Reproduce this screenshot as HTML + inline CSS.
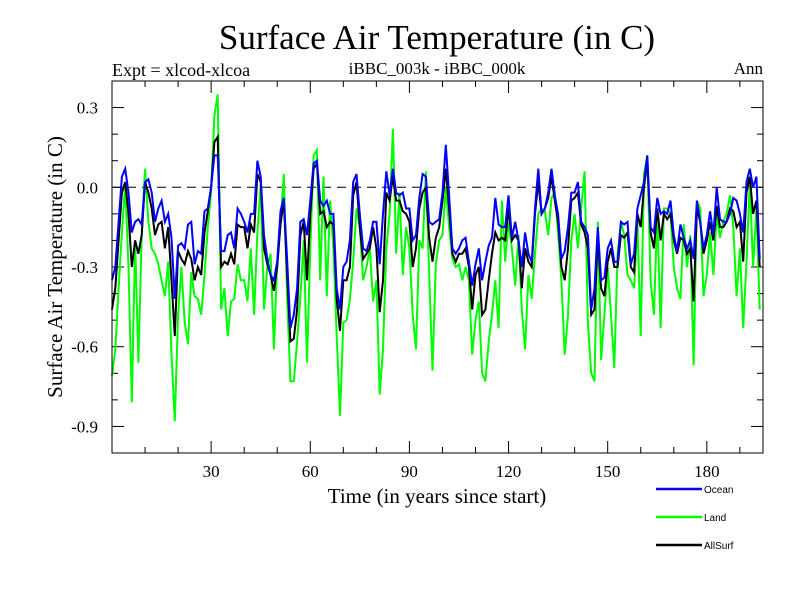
<!DOCTYPE html>
<html><head><meta charset="utf-8"><style>
body{margin:0;background:#fff;}
svg{display:block;}
.serif{font-family:"Liberation Serif",serif;}
.sans{font-family:"Liberation Sans",sans-serif;}
</style></head><body>
<svg id="chart" width="800" height="600" viewBox="0 0 800 600">
<text class="serif" x="437" y="49" font-size="35" text-anchor="middle">Surface Air Temperature (in C)</text>
<text class="serif" x="112" y="76" font-size="18">Expt = xlcod-xlcoa</text>
<text class="serif" x="437" y="74" font-size="17" text-anchor="middle">iBBC_003k - iBBC_000k</text>
<text class="serif" x="763" y="74" font-size="17" text-anchor="end">Ann</text>
<text class="serif" transform="translate(62,267) rotate(-90)" font-size="21" text-anchor="middle">Surface Air Temperature (in C)</text>
<text class="serif" x="437" y="503" font-size="21" text-anchor="middle">Time (in years since start)</text>
<g id="axes"></g>
<g id="series"></g>
<rect x="112" y="81" width="651" height="372" fill="none" stroke="#000" stroke-width="1"/>
<g id="legend"></g>
</svg>
<script>
const years = Array.from({length:197},(_,i)=>i);
const xTicks = [30,60,90,120,150,180];
const yTicks = [0.3,0.0,-0.3,-0.6,-0.9];
const yTickLabels = ["0.3","0.0","-0.3","-0.6","-0.9"];
const ocean = [-0.35,-0.30,-0.13,0.04,0.07,-0.02,-0.17,-0.13,-0.12,-0.14,0.02,0.03,-0.02,-0.13,-0.08,-0.05,-0.13,-0.10,-0.19,-0.42,
-0.22,-0.21,-0.23,-0.14,-0.13,-0.29,-0.24,-0.25,-0.09,-0.08,0.0,0.12,0.12,-0.24,-0.24,-0.18,-0.17,-0.23,-0.08,-0.10,
-0.13,-0.17,-0.10,-0.10,0.10,0.04,-0.18,-0.27,-0.33,-0.35,-0.28,-0.09,-0.04,-0.27,-0.53,-0.48,-0.38,-0.13,-0.12,-0.18,
-0.05,0.09,0.10,-0.05,-0.07,-0.05,-0.10,-0.10,-0.38,-0.46,-0.30,-0.28,-0.20,0.02,0.05,-0.10,-0.23,-0.24,-0.20,-0.13,
-0.13,-0.29,-0.10,0.06,-0.03,0.07,-0.02,-0.03,-0.02,-0.08,-0.08,-0.20,-0.18,-0.04,0.05,0.04,-0.13,-0.14,-0.13,-0.12,
-0.02,0.16,-0.03,-0.23,-0.25,-0.23,-0.20,-0.19,-0.28,-0.37,-0.29,-0.23,-0.35,-0.28,-0.22,-0.19,-0.04,-0.14,-0.15,-0.15,
-0.03,-0.19,-0.13,-0.20,-0.30,-0.17,-0.25,-0.28,-0.08,0.07,-0.10,-0.08,-0.02,0.07,-0.03,-0.10,-0.27,-0.24,-0.15,-0.02,
-0.02,0.02,-0.13,-0.15,-0.18,-0.46,-0.38,-0.15,-0.35,-0.34,-0.23,-0.20,-0.28,-0.28,-0.13,-0.14,-0.13,-0.29,-0.25,-0.08,
-0.03,0.02,0.12,-0.15,-0.17,-0.04,-0.10,-0.09,-0.10,-0.05,-0.18,-0.24,-0.14,-0.19,-0.23,-0.20,-0.27,-0.05,-0.13,-0.23,
-0.18,-0.09,-0.18,0.0,-0.12,-0.13,-0.13,-0.10,-0.04,-0.05,-0.10,-0.17,0.02,0.07,0.0,0.04,-0.27];
const land = [-0.71,-0.61,-0.38,-0.17,0.01,-0.30,-0.81,-0.20,-0.66,-0.18,0.07,-0.13,-0.23,-0.25,-0.29,-0.35,-0.41,-0.28,-0.63,-0.88,
-0.48,-0.30,-0.51,-0.59,-0.32,-0.41,-0.42,-0.48,-0.33,-0.15,-0.02,0.27,0.35,-0.46,-0.38,-0.56,-0.43,-0.42,-0.29,-0.35,
-0.35,-0.43,-0.23,-0.48,-0.17,0.01,-0.46,-0.30,-0.25,-0.61,-0.28,-0.14,0.05,-0.41,-0.73,-0.73,-0.58,-0.41,-0.20,-0.66,
-0.23,0.12,0.14,-0.35,0.04,-0.41,-0.05,-0.23,-0.56,-0.86,-0.51,-0.50,-0.42,-0.28,-0.08,-0.15,-0.35,-0.30,-0.23,-0.43,
-0.35,-0.78,-0.61,-0.23,-0.10,0.22,-0.25,-0.02,-0.33,-0.15,-0.23,-0.48,-0.61,-0.20,-0.23,0.06,-0.33,-0.69,-0.29,-0.20,
-0.18,0.0,-0.15,-0.27,-0.30,-0.29,-0.35,-0.30,-0.35,-0.63,-0.50,-0.43,-0.70,-0.73,-0.58,-0.48,-0.35,-0.53,-0.05,-0.28,
-0.13,-0.23,-0.37,-0.18,-0.46,-0.61,-0.33,-0.42,-0.25,-0.10,-0.08,-0.09,-0.18,-0.04,-0.02,-0.17,-0.35,-0.63,-0.48,-0.20,
-0.10,-0.23,-0.08,0.06,-0.51,-0.70,-0.73,-0.13,-0.65,-0.48,-0.30,-0.48,-0.68,-0.25,-0.13,-0.18,-0.33,-0.35,-0.38,-0.13,
-0.56,0.05,0.12,-0.35,-0.48,-0.10,-0.53,-0.08,-0.08,-0.10,-0.30,-0.38,-0.42,-0.14,-0.30,-0.18,-0.67,-0.05,-0.08,-0.41,
-0.33,-0.17,-0.33,-0.10,-0.19,-0.13,-0.10,-0.03,-0.15,-0.41,-0.23,-0.53,-0.28,0.02,-0.30,-0.08,-0.46];
const allsurf = [-0.46,-0.38,-0.20,-0.02,0.02,-0.10,-0.30,-0.20,-0.25,-0.18,0.02,-0.02,-0.08,-0.18,-0.14,-0.13,-0.23,-0.15,-0.35,-0.56,
-0.24,-0.27,-0.29,-0.24,-0.27,-0.35,-0.30,-0.33,-0.17,-0.09,0.0,0.17,0.19,-0.30,-0.28,-0.29,-0.25,-0.29,-0.14,-0.15,
-0.15,-0.23,-0.14,-0.17,0.05,0.02,-0.23,-0.29,-0.33,-0.39,-0.30,-0.14,-0.05,-0.33,-0.58,-0.57,-0.46,-0.18,-0.13,-0.35,
-0.10,0.07,0.09,-0.10,-0.09,-0.15,-0.13,-0.14,-0.42,-0.54,-0.35,-0.35,-0.30,-0.03,0.02,-0.15,-0.27,-0.25,-0.23,-0.15,
-0.23,-0.47,-0.35,-0.02,-0.05,0.04,-0.05,-0.05,-0.09,-0.10,-0.13,-0.30,-0.23,-0.08,-0.02,0.0,-0.19,-0.28,-0.19,-0.15,
-0.05,0.07,-0.08,-0.25,-0.28,-0.25,-0.25,-0.23,-0.30,-0.46,-0.33,-0.30,-0.48,-0.46,-0.35,-0.25,-0.17,-0.20,-0.19,-0.20,
-0.08,-0.20,-0.18,-0.20,-0.38,-0.23,-0.28,-0.30,-0.10,0.02,-0.10,-0.08,-0.04,0.04,-0.05,-0.13,-0.30,-0.35,-0.23,-0.05,
-0.04,-0.02,-0.14,-0.17,-0.23,-0.48,-0.46,-0.19,-0.38,-0.41,-0.28,-0.23,-0.30,-0.30,-0.18,-0.19,-0.17,-0.30,-0.32,-0.10,
-0.15,0.0,0.10,-0.17,-0.23,-0.08,-0.20,-0.10,-0.12,-0.10,-0.20,-0.25,-0.19,-0.20,-0.25,-0.23,-0.43,-0.08,-0.13,-0.25,
-0.20,-0.13,-0.20,-0.07,-0.15,-0.15,-0.13,-0.08,-0.09,-0.15,-0.13,-0.28,-0.02,0.04,-0.10,-0.05,-0.30];

const NS='http://www.w3.org/2000/svg';
const L=112,R=763,T=81,B=453;
const xMin=0,xMax=197,yMin=-1.0,yMax=0.4;
const xs=v=>L+(v-xMin)/(xMax-xMin)*(R-L);
const ys=v=>B-(v-yMin)/(yMax-yMin)*(B-T);
function mk(tag,attrs,parent){const e=document.createElementNS(NS,tag);for(const k in attrs)e.setAttribute(k,attrs[k]);parent.appendChild(e);return e;}
const axes=document.getElementById('axes');
// x ticks
for(let v=10;v<xMax;v+=10){
  const major=xTicks.includes(v);const len=major?12:6;const x=xs(v);
  const t1=mk('line',{x1:x,x2:x,y1:B,y2:B-len,stroke:'#000'},axes);
  
  
  const t2=mk('line',{x1:x,x2:x,y1:T,y2:T+len,stroke:'#000'},axes);
  
  
}
xTicks.forEach(v=>{
  const t=mk('text',{x:xs(v),y:B+24,'font-size':17,'text-anchor':'middle',class:'serif'},axes);
  t.textContent=String(v);
  
  
});
// y ticks
for(let k=-9;k<=3;k++){
  const v=k/10;const major=(k%3===0);const len=major?12:6;const y=ys(v);
  const t1=mk('line',{x1:L,x2:L+len,y1:y,y2:y,stroke:'#000'},axes);
  
  
  const t2=mk('line',{x1:R,x2:R-len,y1:y,y2:y,stroke:'#000'},axes);
  
  
}
yTicks.forEach((v,i)=>{
  const t=mk('text',{x:L-14,y:ys(v)+6,'font-size':17,'text-anchor':'end',class:'serif'},axes);
  t.textContent=yTickLabels[i];
  
  
});
const zl=mk('line',{x1:L,x2:R,y1:ys(0),y2:ys(0),stroke:'#000','stroke-dasharray':'9,6'},axes);


const sg=document.getElementById('series');
function draw(arr,color,name){
  const d=arr.map((v,i)=>(i?'L':'M')+xs(years[i]).toFixed(1)+','+ys(v).toFixed(1)).join('');
  const p=mk('path',{d:d,fill:'none',stroke:color,'stroke-width':2,'stroke-linejoin':'miter'},sg);
  
  
}
draw(land,'#00ff00','land-line');
draw(allsurf,'#000000','allsurf-line');
draw(ocean,'#0000ff','ocean-line');
const lg=document.getElementById('legend');
[['Ocean','#0000ff',489,'legend-ocean'],['Land','#00ff00',517,'legend-land'],['AllSurf','#000000',545,'legend-allsurf']].forEach(e=>{
  const ln=mk('line',{x1:656,x2:702,y1:e[2],y2:e[2],stroke:e[1],'stroke-width':2.5},lg);
  
  
  const t=mk('text',{x:704,y:e[2]+4,'font-size':10,class:'sans'},lg);
  t.textContent=e[0];
  
  
});
</script>
</body></html>
